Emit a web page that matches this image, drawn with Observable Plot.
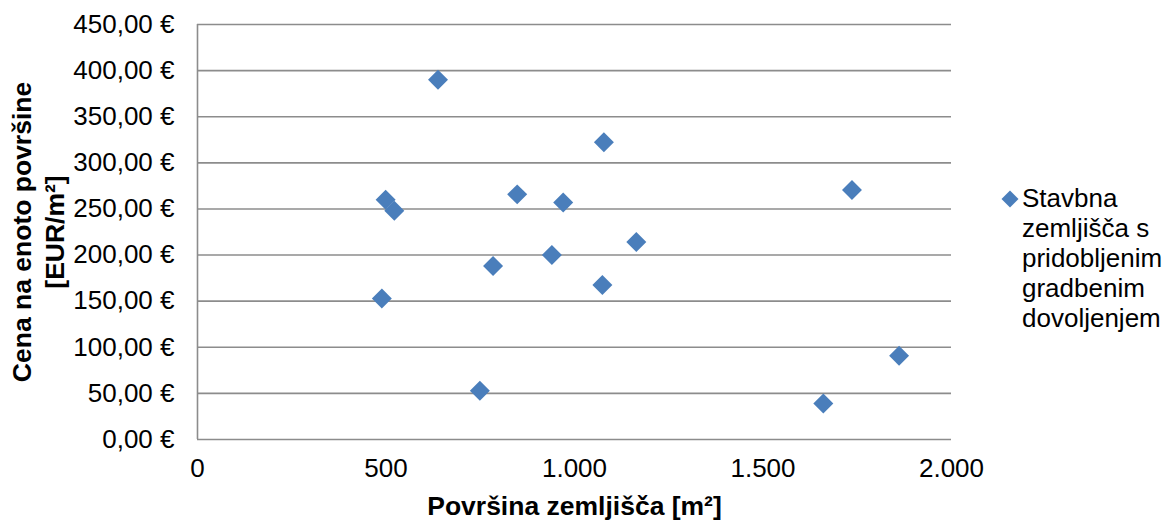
<!DOCTYPE html>
<html>
<head>
<meta charset="utf-8">
<script src="https://cdn.jsdelivr.net/npm/d3@7"></script>
<script src="https://cdn.jsdelivr.net/npm/@observablehq/plot@0.6"></script>
<style>
  html, body { margin: 0; padding: 0; background: #fff; }
  #wrap { position: relative; width: 1165px; height: 522px; font-family: "Liberation Sans", Arial, sans-serif; }
  #legend { position: absolute; left: 1022px; top: 183px; font-size: 26px; line-height: 30px; color: #000; white-space: nowrap; }
  #legend svg { position: absolute; left: -22px; top: 6px; }
</style>
</head>
<body>
<div id="wrap"></div>
<script>
// Data
const seriesName = "Stavbna zemljišča s pridobljenim gradbenim dovoljenjem";
const area  = [638, 1078, 499, 522, 848, 970, 1164, 940, 784, 1074, 489, 749, 1736, 1861, 1660];
const price = [390.2, 322.4, 260.0, 248.1, 265.8, 257.1, 214.2, 200.0, 188.1, 167.5, 152.9, 52.8, 270.6, 90.7, 39.0];
const xTicks = [0, 500, 1000, 1500, 2000];
const yTicks = [0, 50, 100, 150, 200, 250, 300, 350, 400, 450];
const xTitle = "Površina zemljišča [m²]";
const yTitle = "Cena na enoto površine\n[EUR/m²]";
const legendLines = ["Stavbna", "zemljišča s", "pridobljenim", "gradbenim", "dovoljenjem"];

const points = area.map((a, i) => ({area: a, price: price[i]}));
const loc = d3.formatLocale({decimal: ",", thousands: ".", grouping: [3], currency: ["", " €"]});
const fmtX = loc.format(",d");
const fmtY = v => loc.format(".2f")(v) + " €";

const color = "#4a7ebb";
const grid = "#8c8c8c";

const chart = Plot.plot({
  width: 1165,
  height: 522,
  marginLeft: 197,
  marginRight: 214,
  marginTop: 24,
  marginBottom: 83,
  style: {fontFamily: "'Liberation Sans', Arial, sans-serif", background: "#fff", color: "#000"},
  x: {domain: [0, 2000]},
  y: {domain: [0, 450]},
  marks: [
    Plot.ruleY(yTicks, {stroke: grid, strokeWidth: 1.6}),
    Plot.ruleX([0], {stroke: grid, strokeWidth: 1.6}),
    Plot.axisY({ticks: yTicks, tickFormat: fmtY, tickSize: 0, tickPadding: 23, fontSize: 26, label: null}),
    Plot.axisX({ticks: xTicks, tickFormat: fmtX, tickSize: 0, tickPadding: 19, fontSize: 26, label: null}),
    Plot.dot(points, {x: "area", y: "price", symbol: "diamond2", r: 9, fill: color, stroke: "none"}),
    Plot.text([yTitle], {frameAnchor: "left", rotate: -90, dx: -161, fontWeight: "bold", fontSize: 26.5, lineHeight: 1.25, lineAnchor: "middle", textAnchor: "middle", fill: "#000"}),
    Plot.text([xTitle], {frameAnchor: "bottom", dy: 67, fontWeight: "bold", fontSize: 26.5, lineAnchor: "middle", textAnchor: "middle", fill: "#000"})
  ]
});

const wrap = document.getElementById("wrap");
wrap.appendChild(chart);

const legend = document.createElement("div");
legend.id = "legend";
legend.innerHTML = `<svg width="20" height="20" viewBox="-10 -10 20 20"><path d="M0,-8.5L8.5,0L0,8.5L-8.5,0Z" fill="${color}"/></svg>` +
  legendLines.map(l => `<div>${l}</div>`).join("");
legend.setAttribute("aria-label", seriesName);
wrap.appendChild(legend);
</script>
</body>
</html>
